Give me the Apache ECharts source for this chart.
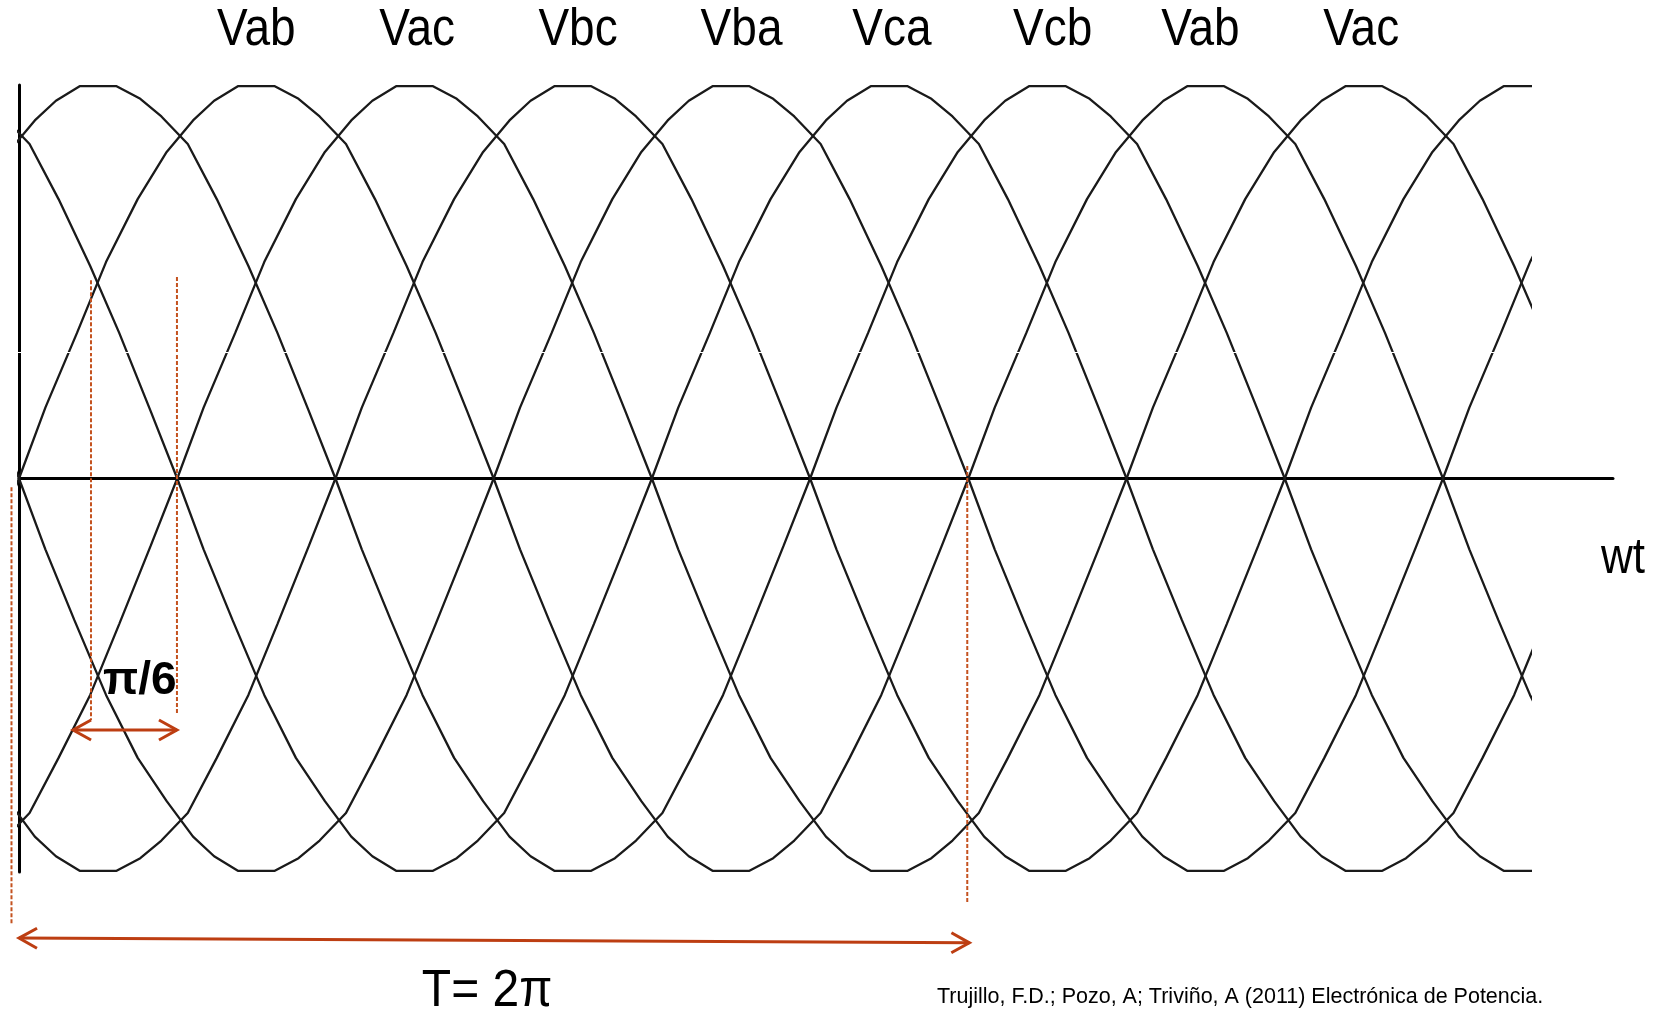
<!DOCTYPE html>
<html>
<head>
<meta charset="utf-8">
<script src="https://cdn.jsdelivr.net/npm/echarts@6/dist/echarts.min.js"></script>
<style>
  html, body { margin: 0; padding: 0; background: #ffffff; }
  #chart { width: 1659px; height: 1013px; }
</style>
</head>
<body>
<div id="chart"></div>
<script>
// One traced period of a line-to-line voltage:
// [phase in degrees after its rising zero crossing, value per unit of peak]
const waveTrace = [
  [0, 0], [10, 0.18], [22, 0.37], [33, 0.55], [45, 0.71], [56, 0.83],
  [66, 0.91], [74, 0.96], [83, 0.997], [97, 0.997], [106, 0.965], [114, 0.92],
  [124, 0.85], [135, 0.71], [147, 0.54], [158, 0.37], [170, 0.17], [180, 0],
  [190, -0.18], [201, -0.36], [213, -0.55], [225, -0.71], [236, -0.82], [246, -0.91],
  [254, -0.96], [263, -0.997], [277, -0.997], [286, -0.965], [294, -0.92], [304, -0.85],
  [315, -0.71], [327, -0.55], [338, -0.37], [350, -0.17], [360, 0]
];

// The six line voltages and where each one crosses zero going up (degrees)
const voltageNames = ['Vab', 'Vac', 'Vbc', 'Vba', 'Vca', 'Vcb'];
const risingZero = [0, 60, 120, 180, 240, 300];

// Labels naming the highest voltage in each 60-degree interval, and their phase
const topLabels = ['Vab', 'Vac', 'Vbc', 'Vba', 'Vca', 'Vcb', 'Vab', 'Vac'];
const topLabelPhases = [90, 151, 212, 274, 331, 392, 448, 509];

// Phase range drawn for the waveforms and for the wt axis
const plotEndPhase = 573;
const axisEndPhase = 605;

function buildWave(shift) {
  const pts = [];
  for (let k = -1; k <= 2; k++) {
    waveTrace.forEach(function (p, i) {
      if (i === waveTrace.length - 1) return;
      const x = shift + p[0] + 360 * k;
      if (x >= -40 && x <= plotEndPhase + 40) pts.push([x, p[1]]);
    });
  }
  pts.sort(function (a, b) { return a[0] - b[0]; });
  return pts;
}

const chart = echarts.init(document.getElementById('chart'), null, { renderer: 'canvas' });

const series = voltageNames.map(function (name, i) {
  return {
    name: name,
    type: 'line',
    xAxisIndex: 0,
    yAxisIndex: 0,
    data: buildWave(risingZero[i]),
    symbol: 'none',
    clip: true,
    silent: true,
    lineStyle: { color: '#1a1a1a', width: 2.3 },
    z: 3
  };
});

chart.setOption({
  animation: false,
  backgroundColor: '#ffffff',
  grid: [
    { left: 19, top: 85, width: 1511, height: 787 },
    { left: 19, top: 85, width: 1594, height: 787 }
  ],
  xAxis: [
    { gridIndex: 0, type: 'value', min: 0, max: plotEndPhase, show: false },
    {
      gridIndex: 1, type: 'value', min: 0, max: axisEndPhase,
      axisLine: { show: true, onZero: true, lineStyle: { color: '#000000', width: 3 } },
      axisTick: { show: false }, axisLabel: { show: false }, splitLine: { show: false }
    }
  ],
  yAxis: [
    {
      gridIndex: 0, type: 'value', min: -1, max: 1,
      axisLine: { show: true, lineStyle: { color: '#000000', width: 3 } },
      axisTick: { show: false }, axisLabel: { show: false }, splitLine: { show: false }
    },
    {
      gridIndex: 1, type: 'value', min: -1, max: 1,
      axisLine: { show: false }, axisTick: { show: false },
      axisLabel: { show: false }, splitLine: { show: false }
    }
  ],
  series: series
});

// Annotations placed in phase/value units and converted through the axes
function px(phase, value) {
  return chart.convertToPixel({ xAxisIndex: 0, yAxisIndex: 0 }, [phase, value]);
}

const RED = '#bd3e12';
const DASH_RED = '#c4521f';
const FONT = '"Liberation Sans", Arial, Helvetica, sans-serif';

function dashedLine(phase, v1, v2) {
  const a = px(phase, v1), b = px(phase, v2);
  return {
    type: 'line', z: 20, silent: true,
    shape: { x1: a[0], y1: a[1], x2: b[0], y2: b[1] },
    style: { stroke: DASH_RED, lineWidth: 2, lineDash: [4, 2] }
  };
}

function chevron(tip, from) {
  const dx = tip[0] - from[0], dy = tip[1] - from[1];
  const len = Math.sqrt(dx * dx + dy * dy);
  const ux = dx / len, uy = dy / len;
  const back = 18, half = 10;
  return {
    type: 'polyline', z: 20, silent: true,
    shape: {
      points: [
        [tip[0] - back * ux - half * uy, tip[1] - back * uy + half * ux],
        [tip[0], tip[1]],
        [tip[0] - back * ux + half * uy, tip[1] - back * uy - half * ux]
      ]
    },
    style: { stroke: RED, lineWidth: 3, fill: null, lineJoin: 'miter' }
  };
}

function doubleArrow(p1, v1, p2, v2) {
  const a = px(p1, v1), b = px(p2, v2);
  return [
    {
      type: 'line', z: 20, silent: true,
      shape: { x1: a[0], y1: a[1], x2: b[0], y2: b[1] },
      style: { stroke: RED, lineWidth: 3 }
    },
    chevron(a, b),
    chevron(b, a)
  ];
}

function text(str, pos, size, opts) {
  opts = opts || {};
  return {
    type: 'text', z: 30, silent: true,
    x: pos[0], y: pos[1],
    scaleX: opts.scaleX || 1,
    scaleY: opts.scaleY || 1,
    style: {
      text: str,
      fontFamily: FONT,
      fontSize: size,
      fontWeight: opts.bold ? 'bold' : 'normal',
      fill: '#000000',
      align: opts.align || 'center',
      verticalAlign: 'middle'
    }
  };
}

const graphics = [];

// interval labels above the waveforms
topLabels.forEach(function (lab, i) {
  graphics.push(text(lab, px(topLabelPhases[i], 1.137), 46, { scaleY: 1.12 }));
});

// pi/6 marker
graphics.push(dashedLine(27.3, 0.504, -0.614));
graphics.push(dashedLine(59.9, 0.512, -0.596));
doubleArrow(20.5, -0.639, 59.9, -0.639).forEach(function (g) { graphics.push(g); });
graphics.push(text('\u03c0/6', px(45.8, -0.515), 46, { bold: true }));

// one full period marker
graphics.push(dashedLine(-2.85, -0.022, -1.13));
graphics.push(dashedLine(359.6, 0.032, -1.079));
doubleArrow(0, -1.168, 360.4, -1.180).forEach(function (g) { graphics.push(g); });
graphics.push(text('T= 2\u03c0', px(177.5, -1.305), 48, { scaleY: 1.08 }));

// axis name
graphics.push(text('wt', [1623, 559], 44, { scaleY: 1.12 }));

// source line
graphics.push(text('Trujillo, F.D.; Pozo, A; Trivi\u00f1o, A (2011) Electr\u00f3nica de Potencia.',
  [937, 997], 21.5, { align: 'left' }));

// thin white scan line crossing the traces
(function () {
  const a = px(-1.5, 0.321), b = px(plotEndPhase, 0.321);
  graphics.push({
    type: 'line', z: 40, silent: true,
    shape: { x1: a[0], y1: Math.round(a[1]) + 0.5, x2: b[0], y2: Math.round(b[1]) + 0.5 },
    style: { stroke: '#ffffff', lineWidth: 1 }
  });
})();

chart.setOption({ graphic: graphics });
</script>
</body>
</html>
